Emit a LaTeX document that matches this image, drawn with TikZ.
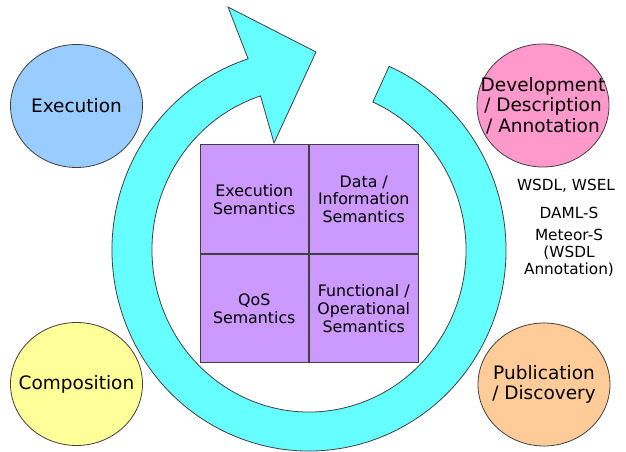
\documentclass[tikz,border=0pt]{standalone}
\usepackage{fontspec}
\setmainfont{DejaVu Sans}
\usetikzlibrary{positioning,shapes}

\definecolor{ringcyan}{HTML}{66FFFF}
\definecolor{cellviolet}{HTML}{CC99FF}
\definecolor{execblue}{HTML}{99CCFF}
\definecolor{devpink}{HTML}{FF99CC}
\definecolor{compyellow}{HTML}{FFFF99}
\definecolor{pubpeach}{HTML}{FFCC99}
\definecolor{edgegray}{HTML}{404040}

\begin{document}
\begin{tikzpicture}[
    x=1pt, y=1pt,
    phase/.style={ellipse, draw=edgegray, line width=0.8pt, minimum width=132pt, minimum height=123pt, inner xsep=-20pt, inner ysep=0pt, align=center, font=\fontsize{18.5}{20.5}\selectfont},
    cell/.style={rectangle, draw=edgegray, line width=1pt, fill=cellviolet, minimum width=108.5pt, minimum height=108.5pt, inner sep=0pt, align=center, font=\fontsize{15.8}{17.8}\selectfont},
    lang/.style={align=center, inner sep=0pt, font=\fontsize{15.3}{17}\selectfont},
    ring/.style={draw=edgegray, line width=0.8pt, fill=ringcyan}
]
\useasboundingbox (0,0) rectangle (626,452);

% lifecycle arrow
\coordinate (C) at (309,202);
\coordinate (headout) at (228,445);
\coordinate (headtip) at (316,400);
\coordinate (headin) at (274,309);
\draw[ring] ([shift={(66:197 and 201)}]C) arc[start angle=66, end angle=-252, x radius=197, y radius=201]
    -- (headout) -- (headtip) -- (headin)
    -- ([shift={(108:157 and 162)}]C) arc[start angle=108, end angle=426, x radius=157, y radius=162] -- cycle;

% semantics grid
\node[cell] (exesem) at (254.25,252.75) {Execution\\Semantics};
\node[cell, right=0pt of exesem] (datasem) {Data /\\Information\\Semantics};
\node[cell, below=0pt of exesem] (qossem) {QoS\\Semantics};
\node[cell, right=0pt of qossem] (funcsem) {Functional /\\Operational\\Semantics};

% phases
\node[phase, fill=execblue] (execution) at (76.5,346) {Execution};
\node[phase, fill=devpink] (development) at (543,346.5) {Development\\/ Description\\/ Annotation};
\node[phase, fill=compyellow] (composition) at (76.5,68) {Composition};
\node[phase, fill=pubpeach] (publication) at (544,67.5) {Publication\\/ Discovery};

% languages
\node[lang] (wsdl) at (566,266) {WSDL, WSEL};
\node[lang] (daml) at (569,239) {DAML-S};
\node[lang] (meteor) at (569,199) {Meteor-S\\(WSDL\\Annotation)};
\end{tikzpicture}
\end{document}
